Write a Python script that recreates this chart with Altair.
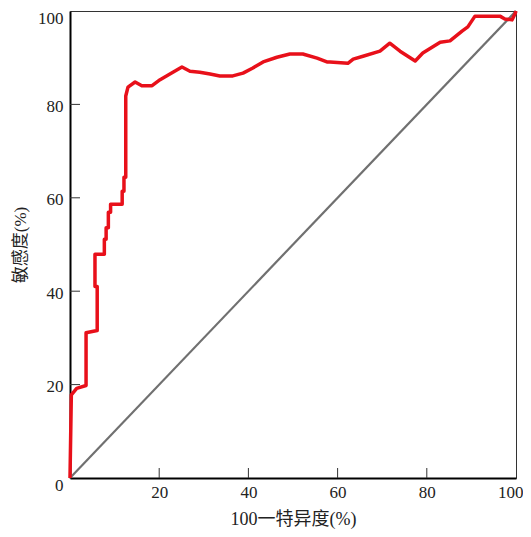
import altair as alt
import pandas as pd

# ROC curve points (100 - specificity, sensitivity)
fpr = [0, 0.3, 1.5, 3.6, 3.6, 6.1, 6.1, 5.6, 5.6, 7.7, 7.7, 8.1, 8.1, 8.6, 8.6, 9.1, 9.1,
       11.7, 11.7, 12.1, 12.1, 12.5, 12.5, 13.0, 14.6, 16.1, 18.4, 20.2, 22.4, 25.1, 26.9,
       29.1, 31.4, 33.6, 36.5, 38.8, 41.0, 43.3, 46.4, 49.3, 52.2, 55.4, 57.6, 58.3, 62.3,
       63.5, 65.7, 69.5, 71.7, 74.0, 77.4, 79.1, 83.0, 85.2, 87.9, 89.2, 90.8, 96.4, 97.5,
       99.1, 99.8, 100]
tpr = [0, 17.8, 19.2, 19.8, 31.1, 31.6, 41.0, 41.0, 47.9, 47.9, 51.1, 51.1, 53.6, 53.6,
       56.9, 56.9, 58.6, 58.6, 61.4, 61.4, 64.4, 64.4, 81.8, 83.7, 84.8, 84.0, 84.0, 85.3,
       86.5, 88.0, 87.1, 86.9, 86.5, 86.1, 86.1, 86.7, 87.8, 89.1, 90.1, 90.8, 90.8, 89.9,
       89.1, 89.1, 88.8, 89.7, 90.3, 91.4, 93.1, 91.4, 89.3, 91.0, 93.3, 93.6, 95.7, 96.6,
       98.9, 98.9, 98.3, 98.1, 99.4, 100]
diag_x = [0, 100]
diag_y = [0, 100]
x_ticks = [20, 40, 60, 80, 100]
y_ticks = [0, 20, 40, 60, 80, 100]
x_inner_ticks = [20, 40, 60, 80]
y_inner_ticks = [20, 40, 60, 80]

W, H = 446, 467
FONT = "Liberation Serif, Noto Sans CJK SC"

roc = pd.DataFrame({"x": fpr, "y": tpr, "o": list(range(len(fpr)))})
diag = pd.DataFrame({"x": diag_x, "y": diag_y})
xt = pd.DataFrame({"x": x_inner_ticks})
yt = pd.DataFrame({"y": y_inner_ticks})

xscale = alt.Scale(domain=[0, 100], nice=False, zero=False)
yscale = alt.Scale(domain=[0, 100], nice=False, zero=False)

xaxis = alt.Axis(values=x_ticks, title="100一特异度(%)", grid=False, ticks=False,
                 domainColor="#000", domainWidth=2, labelFont=FONT, labelFontSize=17,
                 labelColor="#222", labelPadding=6, labelFlush=False, labelBound=False,
                 labelAlign=alt.condition("datum.value == 100", alt.value("right"), alt.value("center")),
                 labelOffset=alt.condition("datum.value == 100", alt.value(7), alt.value(0)),
                 titleFont=FONT, titleFontSize=18, titleFontWeight="normal",
                 titleColor="#222", titlePadding=10)
yaxis = alt.Axis(values=y_ticks, title="敏感度(%)", grid=False, ticks=False,
                 domainColor="#000", domainWidth=2, labelFont=FONT, labelFontSize=17,
                 labelColor="#222", labelPadding=7, labelFlush=False, labelBound=False,
                 labelBaseline=alt.condition("datum.value == 0 || datum.value == 100",
                                             alt.value("top"), alt.value("middle")),
                 labelOffset=alt.condition("datum.value == 0 || datum.value == 100",
                                           alt.value(-1), alt.value(2)),
                 titleFont=FONT, titleFontSize=17, titleFontWeight="normal",
                 titleColor="#222", titlePadding=8)

diag_line = alt.Chart(diag).mark_line(color="#707070", strokeWidth=2.2).encode(
    x=alt.X("x:Q", scale=xscale, axis=xaxis),
    y=alt.Y("y:Q", scale=yscale, axis=yaxis),
)
roc_line = alt.Chart(roc).mark_line(color="#e8101a", strokeWidth=3.5,
                                     strokeJoin="round").encode(
    x=alt.X("x:Q", scale=xscale),
    y=alt.Y("y:Q", scale=yscale),
    order="o:Q",
)
xtick_rules = alt.Chart(xt).mark_rule(color="#333", strokeWidth=1).encode(
    x=alt.X("x:Q", scale=xscale),
    y=alt.value(H),
    y2=alt.value(H - 10),
)
ytick_rules = alt.Chart(yt).mark_rule(color="#333", strokeWidth=1).encode(
    y=alt.Y("y:Q", scale=yscale),
    x=alt.value(0),
    x2=alt.value(10),
)

chart = alt.layer(diag_line, roc_line, xtick_rules, ytick_rules).properties(
    width=W, height=H,
    autosize=alt.AutoSizeParams(type="none"),
    padding={"left": 62, "top": 3, "right": 7, "bottom": 51},
).configure_view(stroke="#333", strokeWidth=1)

chart.save("out.html", embed_options={"renderer": "svg", "actions": False})
